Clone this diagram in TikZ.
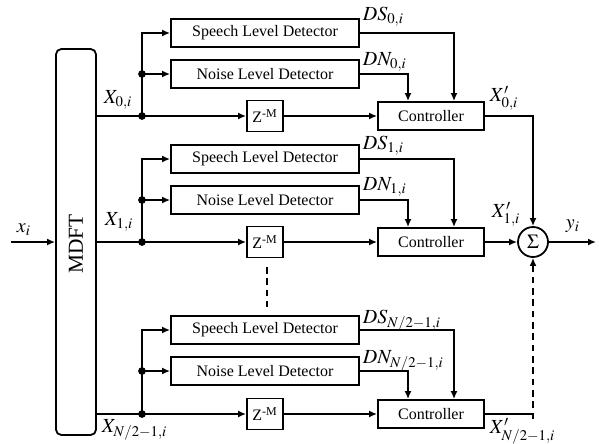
\documentclass[tikz,border=0pt]{standalone}
\usepackage{mathptmx}
\usepackage{fontspec}
\setmainfont{Liberation Serif}
\usetikzlibrary{arrows.meta}

\tikzset{
	blk/.style={draw, inner sep=0pt, minimum height=21pt, font=\fontsize{12}{14}\selectfont},
	det/.style={blk, minimum width=141pt},
	ctrl/.style={blk, minimum width=79.5pt},
	dly/.style={blk, minimum width=27pt, minimum height=23.25pt},
	dot/.style={circle, fill, inner sep=0pt, minimum size=5.8pt},
	lbl/.style={inner sep=0pt, anchor=west, font=\fontsize{15}{17}\selectfont},
}

\begin{document}
\begin{tikzpicture}[x=0.75pt, y=-0.75pt, line width=1.35pt, >={Latex[length=6pt,width=5.2pt]}]
	\useasboundingbox (0,0) rectangle (599,443);
	% analysis filter bank
	\node[draw, rounded corners=4pt, minimum width=30pt, minimum height=289.5pt] (mdft) at (76,242) {};
	\node[rotate=90, font=\fontsize{16}{18}\selectfont] (mdfttxt) at (76,244) {MDFT};
	\coordinate (xin) at (11,242);
	\draw[->] (xin) -- (mdft.west);
	\node[lbl] (xlbl) at (16,230) {$x_i$};
	% one channel per sub-band
	\foreach \b/\ys/\yn/\ym in {0/33/74/116, 1/159/200/242, 2/330/371/414} {
		\node[det] (sp\b) at (265,\ys) {Speech Level Detector};
		\node[det] (ns\b) at (265,\yn) {Noise Level Detector};
		\node[dly] (z\b) at (265,\ym) {Z\textsuperscript{-M}};
		\node[ctrl] (c\b) at (431,\ym) {Controller};
		\node[dot] (j\b) at (142,\ym) {};
		\node[dot] (k\b) at (142,\yn) {};
		\draw (mdft.east |- j\b) -- (j\b.center);
		\draw[->] (j\b.center) -- (z\b.west);
		\draw[->] (j\b.center) |- (sp\b.west);
		\draw[->] (k\b.center) -- (ns\b.west);
		\draw[->] (z\b) -- (c\b);
		\draw[->] (sp\b.east) -| ([xshift=17.25pt]c\b.north);
		\draw[->] (ns\b.east) -| ([xshift=-17.25pt]c\b.north);
	}
	% channel labels
	\node[lbl] (x0) at (103,100) {$X_{0,i}$};
	\node[lbl] (x1) at (104,222) {$X_{1,i}$};
	\node[lbl] (x2) at (101,430) {$X_{N/2-1,i}$};
	\node[lbl] (ds0) at (362,17) {$DS_{0,i}$};
	\node[lbl] (dn0) at (362,62) {$DN_{0,i}$};
	\node[lbl] (ds1) at (362,146) {$DS_{1,i}$};
	\node[lbl] (dn1) at (362,187) {$DN_{1,i}$};
	\node[lbl] (ds2) at (362,321) {$DS_{N/2-1,i}$};
	\node[lbl] (dn2) at (362,361) {$DN_{N/2-1,i}$};
	% gap between channels
	\coordinate (v1) at (267,267);
	\coordinate (v2) at (267,307);
	\draw[dashed, dash pattern=on 5pt off 3.5pt] (v1) -- (v2);
	% synthesis sum
	\node[draw, circle, inner sep=0pt, minimum size=22.5pt, font=\fontsize{15}{17}\selectfont] (sum) at (533,242) {$\Sigma$};
	\draw[->] (c0.east) -| (sum.north);
	\draw[->] (c1.east) -- (sum.west);
	\coordinate (t2) at (sum |- c2.east);
	\draw (c2.east) -- (t2) -- ([yshift=-4pt]t2);
	\draw[->, dash pattern=on 5pt off 3.5pt] ([yshift=-4pt]t2) -- (sum.south);
	\node[lbl] (xp0) at (489,98) {$X'_{0,i}$};
	\node[lbl] (xp1) at (491,214) {$X'_{1,i}$};
	\node[lbl] (xp2) at (489,431) {$X'_{N/2-1,i}$};
	\coordinate (yout) at (596,242);
	\draw[->] (sum.east) -- (yout);
	\node[lbl] (ylbl) at (565,226) {$y_i$};
\end{tikzpicture}
\end{document}
